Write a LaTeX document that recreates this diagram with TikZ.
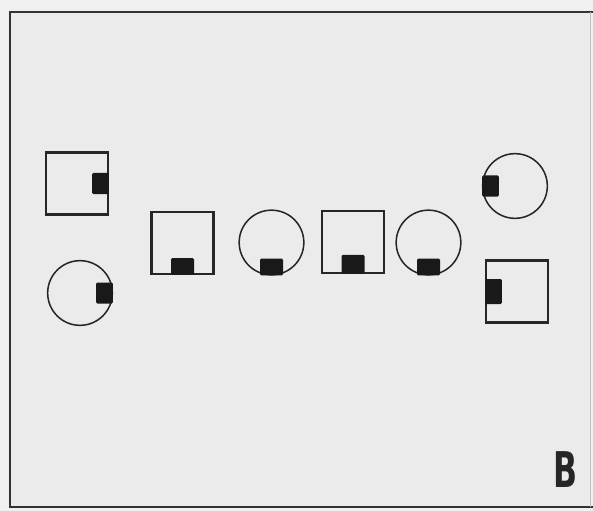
\documentclass[tikz,border=0pt]{standalone}
\usepackage{fontspec}
\setsansfont{DejaVu Sans}
\usetikzlibrary{positioning}

\begin{document}
\begin{tikzpicture}[
  x=0.03cm, y=-0.03cm,
  tile/.style={draw=black!85, line width=1.9pt, minimum size=1.86cm, inner sep=0pt},
  dial/.style={draw=black!85, circle, line width=1.3pt, minimum size=1.94cm, inner sep=0pt},
  tabh/.style={fill=black!90, rounded corners=1pt, minimum width=0.69cm, minimum height=0.5cm, inner sep=0pt},
  tabv/.style={fill=black!90, rounded corners=1pt, minimum width=0.5cm, minimum height=0.63cm, inner sep=0pt}
]
\useasboundingbox (0,0) rectangle (593,511);
\fill[black!6] (0,0) rectangle (593,511);
\fill[black!8] (10,12) rectangle (590,507);
% frame
\draw[black!80, line width=2pt] (593,12) -- (10,12) -- (10,507) -- (593,507);
\draw[black!25, line width=0.6pt] (590,12) -- (590,507);

% left column
\node[tile] (sqa) at (77,183.5) {};
\node[tabv, anchor=east] (taba) at (sqa.east) {};
\node[dial] (cia) at (80,293) {};
\node[tabv, anchor=east] (tabb) at (cia.east) {};

% middle row
\node[tile] (sqb) at (182.5,243) {};
\node[tabh, anchor=south] (tabc) at (sqb.south) {};
\node[dial] (cib) at (271.5,242.5) {};
\node[tabh, anchor=south] (tabd) at (cib.south) {};
\node[tile] (sqc) at (353,242) {};
\node[tabh, anchor=south, minimum height=0.57cm] (tabe) at (sqc.south) {};
\node[dial] (cic) at (428.5,242.5) {};
\node[tabh, anchor=south] (tabf) at (cic.south) {};

% right column
\node[dial] (cid) at (515,186) {};
\node[tabv, anchor=west] (tabg) at (cid.west) {};
\node[tile] (sqd) at (517,291.5) {};
\node[tabv, anchor=west, minimum height=0.75cm] (tabh) at (sqd.west) {};

% panel letter
\node[inner sep=0pt, xscale=0.64, black!85,
      font=\sffamily\bfseries\fontsize{42}{42}\selectfont] (lbl) at (565,470) {B};
\end{tikzpicture}
\end{document}
